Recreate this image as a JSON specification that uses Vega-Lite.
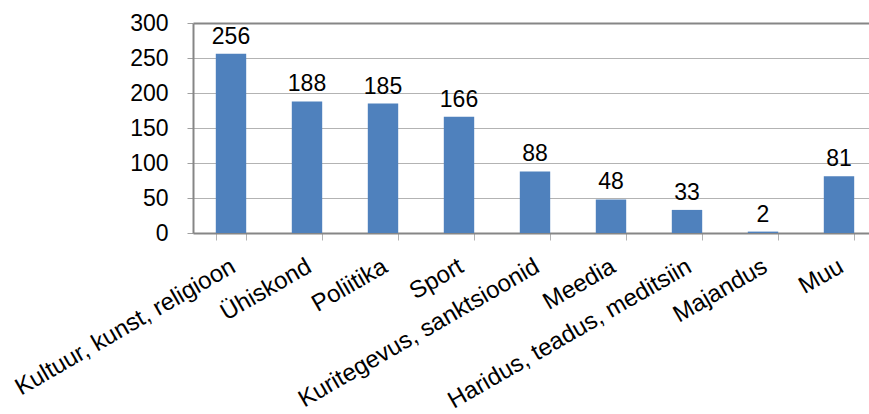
{
  "$schema": "https://vega.github.io/schema/vega-lite/v6.json",
  "autosize": "none",
  "padding": {"left": 193, "top": 23, "right": 0, "bottom": 181},
  "width": 684,
  "height": 210,
  "background": "white",
  "config": {
    "view": {"stroke": null},
    "font": "Liberation Sans"
  },
  "data": {
    "values": [
      {"kategooria": "Kultuur, kunst, religioon", "arv": 256},
      {"kategooria": "Ühiskond", "arv": 188},
      {"kategooria": "Poliitika", "arv": 185},
      {"kategooria": "Sport", "arv": 166},
      {"kategooria": "Kuritegevus, sanktsioonid", "arv": 88},
      {"kategooria": "Meedia", "arv": 48},
      {"kategooria": "Haridus, teadus, meditsiin", "arv": 33},
      {"kategooria": "Majandus", "arv": 2},
      {"kategooria": "Muu", "arv": 81}
    ]
  },
  "encoding": {
    "x": {
      "field": "kategooria",
      "type": "nominal",
      "sort": null,
      "scale": {"paddingInner": 0.6, "paddingOuter": 0.3},
      "axis": {
        "title": null,
        "labelAngle": -30,
        "labelFontSize": 24,
        "labelColor": "black",
        "labelPadding": 14,
        "labelOffset": -4,
        "tickBand": "extent",
        "tickColor": "#b3b3b3",
        "tickSize": 7,
        "domainColor": "#868686",
        "domainWidth": 2,
        "labelLimit": 400
      }
    },
    "y": {
      "field": "arv",
      "type": "quantitative",
      "scale": {"domain": [0, 300], "nice": false},
      "axis": {
        "title": null,
        "values": [0, 50, 100, 150, 200, 250, 300],
        "labelFontSize": 23,
        "labelColor": "black",
        "labelPadding": 19,
        "tickSize": 6,
        "tickColor": "#a0a0a0",
        "gridColor": {"condition": {"test": "datum.value === 300", "value": "#868686"}, "value": "#b3b3b3"},
        "gridWidth": {"condition": {"test": "datum.value === 300", "value": 2}, "value": 1},
        "domainColor": "#868686",
        "domainWidth": 2
      }
    }
  },
  "layer": [
    {"mark": {"type": "bar", "color": "#4F81BD"}},
    {
      "mark": {"type": "text", "baseline": "bottom", "dy": -5, "fontSize": 23, "color": "black"},
      "encoding": {"text": {"field": "arv", "type": "quantitative"}}
    }
  ]
}
